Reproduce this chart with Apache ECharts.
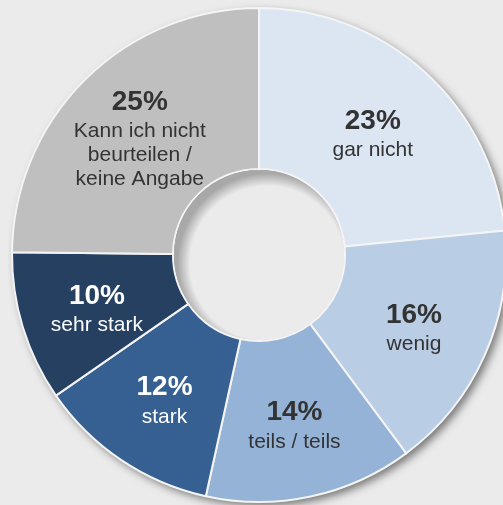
<!DOCTYPE html>
<html>
<head>
    <meta charset="UTF-8" />
    <title>Donut</title>
    <script src="https://cdn.jsdelivr.net/npm/echarts@6/dist/echarts.min.js"></script>
    <style>
        html, body { margin: 0; padding: 0; background: #ebebeb; }
        #chart { width: 503px; height: 505px; }
    </style>
</head>
<body>
<div id="chart"></div>
<script type="text/javascript">
    // Kategorien, im Uhrzeigersinn ab 12 Uhr
    var categories = ['gar nicht', 'wenig', 'teils / teils', 'stark', 'sehr stark', 'Kann ich nicht\nbeurteilen /\nkeine Angabe'];
    // Anteile in Prozent
    var values = [23.4, 16.4, 13.6, 11.9, 9.8, 24.8];
    // angezeigte Prozentwerte
    var percentLabels = ['23%', '16%', '14%', '12%', '10%', '25%'];
    var colors = ['#dce6f2', '#b9cde5', '#95b3d7', '#366092', '#254061', '#bfbfbf'];
    var textColors = ['#333333', '#333333', '#333333', '#ffffff', '#ffffff', '#333333'];

    var center = [259, 255];
    var radius = [86, 247];

    var data = [];
    for (var i = 0; i < values.length; i++) {
        data.push({
            value: values[i],
            name: categories[i],
            itemStyle: { color: colors[i] },
            label: {
                rich: {
                    p: { fontSize: 28, fontWeight: 'bold', color: textColors[i], lineHeight: 34, fontFamily: 'Liberation Sans' },
                    n: { fontSize: 21, color: textColors[i], lineHeight: 24, fontFamily: 'Liberation Sans' }
                }
            }
        });
    }

    var myChart = echarts.init(document.getElementById('chart'));
    var option = {
        backgroundColor: '#ebebeb',
        animation: false,
        series: [
            {
                // Schatten unter dem Ring
                type: 'pie',
                silent: true,
                center: center,
                radius: radius,
                label: { show: false },
                labelLine: { show: false },
                itemStyle: {
                    color: '#e6e6e6',
                    shadowBlur: 9,
                    shadowOffsetX: 4,
                    shadowOffsetY: 4,
                    shadowColor: 'rgba(0,0,0,0.5)'
                },
                data: [{ value: 1 }]
            },
            {
                type: 'pie',
                center: center,
                radius: radius,
                startAngle: 90,
                clockwise: true,
                avoidLabelOverlap: false,
                itemStyle: { borderColor: '#f4f4f4', borderWidth: 2 },
                label: {
                    show: true,
                    position: 'inside',
                    offset: [0, 4],
                    formatter: function (params) {
                        var lines = params.name.split('\n');
                        var s = '{p|' + percentLabels[params.dataIndex] + '}';
                        for (var k = 0; k < lines.length; k++) {
                            s += '\n{n|' + lines[k] + '}';
                        }
                        return s;
                    }
                },
                labelLine: { show: false },
                data: data
            },
            {
                // Innenschatten des Lochs
                type: 'pie',
                silent: true,
                center: center,
                radius: [0, radius[0] - 1],
                label: { show: false },
                labelLine: { show: false },
                itemStyle: {
                    color: {
                        type: 'radial', x: 0.55, y: 0.55, r: 0.53,
                        colorStops: [
                            { offset: 0, color: '#ebebeb' },
                            { offset: 0.86, color: '#ebebeb' },
                            { offset: 1, color: '#a8a8a8' }
                        ]
                    }
                },
                data: [{ value: 1 }]
            }
        ]
    };
    myChart.setOption(option);
</script>
</body>
</html>
